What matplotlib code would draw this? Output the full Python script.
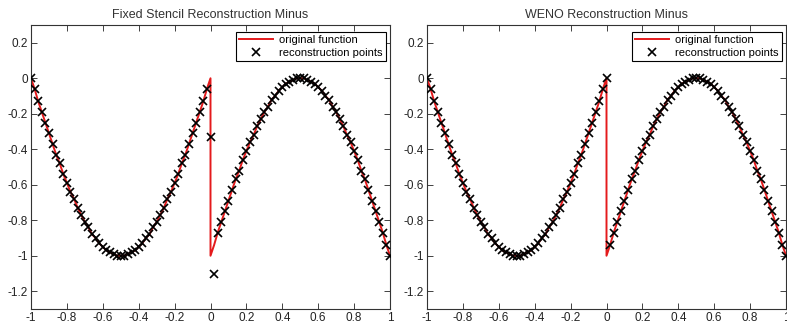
import matplotlib
matplotlib.use("Agg")
import matplotlib.pyplot as plt
from matplotlib.ticker import FuncFormatter

plt.rcParams['font.family'] = ['Liberation Sans', 'DejaVu Sans']
plt.rcParams['axes.unicode_minus'] = False

titles = ["Fixed Stencil Reconstruction Minus", "WENO Reconstruction Minus"]
legend_labels = ["original function", "reconstruction points"]

x_grid = [-1.00, -0.98, -0.96, -0.94, -0.92, -0.90, -0.88, -0.86, -0.84, -0.82,
          -0.80, -0.78, -0.76, -0.74, -0.72, -0.70, -0.68, -0.66, -0.64, -0.62,
          -0.60, -0.58, -0.56, -0.54, -0.52, -0.50, -0.48, -0.46, -0.44, -0.42,
          -0.40, -0.38, -0.36, -0.34, -0.32, -0.30, -0.28, -0.26, -0.24, -0.22,
          -0.20, -0.18, -0.16, -0.14, -0.12, -0.10, -0.08, -0.06, -0.04, -0.02,
          0.00, 0.02, 0.04, 0.06, 0.08, 0.10, 0.12, 0.14, 0.16, 0.18,
          0.20, 0.22, 0.24, 0.26, 0.28, 0.30, 0.32, 0.34, 0.36, 0.38,
          0.40, 0.42, 0.44, 0.46, 0.48, 0.50, 0.52, 0.54, 0.56, 0.58,
          0.60, 0.62, 0.64, 0.66, 0.68, 0.70, 0.72, 0.74, 0.76, 0.78,
          0.80, 0.82, 0.84, 0.86, 0.88, 0.90, 0.92, 0.94, 0.96, 0.98, 1.00]

# original function, left branch (x from -1 to 0) and right branch (x from 0 to 1)
func_left = [0.00, -0.06, -0.13, -0.19, -0.25, -0.31, -0.37, -0.43, -0.48, -0.54,
             -0.59, -0.64, -0.68, -0.73, -0.77, -0.81, -0.84, -0.88, -0.90, -0.93,
             -0.95, -0.97, -0.98, -0.99, -1.00, -1.00, -1.00, -0.99, -0.98, -0.97,
             -0.95, -0.93, -0.90, -0.88, -0.84, -0.81, -0.77, -0.73, -0.68, -0.64,
             -0.59, -0.54, -0.48, -0.43, -0.37, -0.31, -0.25, -0.19, -0.13, -0.06, 0.00]
func_right = [-1.00, -0.94, -0.87, -0.81, -0.75, -0.69, -0.63, -0.57, -0.52, -0.46,
              -0.41, -0.36, -0.32, -0.27, -0.23, -0.19, -0.16, -0.12, -0.10, -0.07,
              -0.05, -0.03, -0.02, -0.01, 0.00, 0.00, 0.00, -0.01, -0.02, -0.03,
              -0.05, -0.07, -0.10, -0.12, -0.16, -0.19, -0.23, -0.27, -0.32, -0.36,
              -0.41, -0.46, -0.52, -0.57, -0.63, -0.69, -0.75, -0.81, -0.87, -0.94, -1.00]

fixed_recon = [0.00, -0.06, -0.13, -0.19, -0.25, -0.31, -0.37, -0.43, -0.48, -0.54,
               -0.59, -0.64, -0.68, -0.73, -0.77, -0.81, -0.84, -0.88, -0.90, -0.93,
               -0.95, -0.97, -0.98, -0.99, -1.00, -1.00, -1.00, -0.99, -0.98, -0.97,
               -0.95, -0.93, -0.90, -0.88, -0.84, -0.81, -0.77, -0.73, -0.68, -0.64,
               -0.59, -0.54, -0.48, -0.43, -0.37, -0.31, -0.25, -0.19, -0.13, -0.06,
               -0.33, -1.10, -0.87, -0.81, -0.75, -0.69, -0.63, -0.57, -0.52, -0.46,
               -0.41, -0.36, -0.32, -0.27, -0.23, -0.19, -0.16, -0.12, -0.10, -0.07,
               -0.05, -0.03, -0.02, -0.01, 0.00, 0.00, 0.00, -0.01, -0.02, -0.03,
               -0.05, -0.07, -0.10, -0.12, -0.16, -0.19, -0.23, -0.27, -0.32, -0.36,
               -0.41, -0.46, -0.52, -0.57, -0.63, -0.69, -0.75, -0.81, -0.87, -0.94, -1.00]

weno_recon = [0.00, -0.06, -0.13, -0.19, -0.25, -0.31, -0.37, -0.43, -0.48, -0.54,
              -0.59, -0.64, -0.68, -0.73, -0.77, -0.81, -0.84, -0.88, -0.90, -0.93,
              -0.95, -0.97, -0.98, -0.99, -1.00, -1.00, -1.00, -0.99, -0.98, -0.97,
              -0.95, -0.93, -0.90, -0.88, -0.84, -0.81, -0.77, -0.73, -0.68, -0.64,
              -0.59, -0.54, -0.48, -0.43, -0.37, -0.31, -0.25, -0.19, -0.13, -0.06,
              0.00, -0.94, -0.87, -0.81, -0.75, -0.69, -0.63, -0.57, -0.52, -0.46,
              -0.41, -0.36, -0.32, -0.27, -0.23, -0.19, -0.16, -0.12, -0.10, -0.07,
              -0.05, -0.03, -0.02, -0.01, 0.00, 0.00, 0.00, -0.01, -0.02, -0.03,
              -0.05, -0.07, -0.10, -0.12, -0.16, -0.19, -0.23, -0.27, -0.32, -0.36,
              -0.41, -0.46, -0.52, -0.57, -0.63, -0.69, -0.75, -0.81, -0.87, -0.94, -1.00]

x_ticks = [-1, -0.8, -0.6, -0.4, -0.2, 0, 0.2, 0.4, 0.6, 0.8, 1]
y_ticks = [-1.2, -1, -0.8, -0.6, -0.4, -0.2, 0, 0.2]

# original function polyline: left branch up to x=0, then right branch from x=0
x_func = x_grid[:51] + x_grid[50:]
y_func = func_left + func_right

fig = plt.figure(figsize=(7.87, 3.23), dpi=100)
W, H = 787, 323
axes_px = [(31, 25, 359, 284), (427, 25, 359, 284)]
recons = [fixed_recon, weno_recon]

fmt = FuncFormatter(lambda v, p: ('%g' % round(v, 4)))

for (l, t, w, h), title, rec in zip(axes_px, titles, recons):
    ax = fig.add_axes([l / W, (H - t - h) / H, w / W, h / H])
    ax.plot(x_func, y_func, color='#e41a1c', lw=1.4, label=legend_labels[0], zorder=2)
    ax.plot(x_grid, rec, linestyle='none', marker='x', color='black',
            markersize=5.5, markeredgewidth=1.2, label=legend_labels[1], zorder=3)
    ax.set_xlim(-1, 1)
    ax.set_ylim(-1.3, 0.3)
    ax.set_xticks(x_ticks)
    ax.set_yticks(y_ticks)
    ax.xaxis.set_major_formatter(fmt)
    ax.yaxis.set_major_formatter(fmt)
    ax.tick_params(direction='in', length=4, width=0.6, top=True, right=True,
                   labelsize=8.5, pad=2, colors='#222222', labelcolor='#222222')
    for s in ax.spines.values():
        s.set_linewidth(0.8)
        s.set_color('#333333')
    ax.set_title(title, fontsize=9, color='#333333', pad=5)
    leg = ax.legend(loc='upper right', bbox_to_anchor=(1 - 4 / w, 1 - 7 / h),
                    borderaxespad=0, fontsize=8, handlelength=3.0,
                    labelspacing=0.2, borderpad=0.3, handletextpad=0.6,
                    fancybox=False, framealpha=1, edgecolor='black')
    leg.get_frame().set_linewidth(0.8)

fig.savefig('out.png', dpi=100)
